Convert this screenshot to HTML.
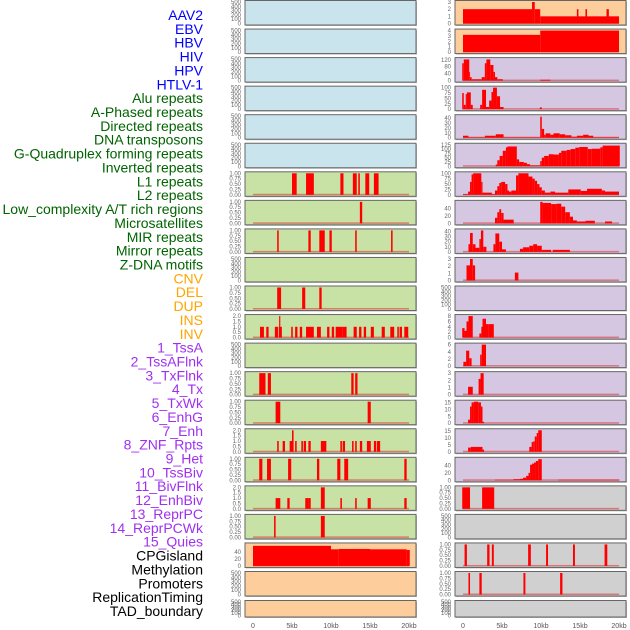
<!DOCTYPE html>
<html><head><meta charset="utf-8"><style>
body{margin:0;background:#fff;}
svg{display:block;font-family:"Liberation Sans",sans-serif;}
</style></head><body>
<svg id="c" width="630" height="630"></svg>
<script>
const trackLabels=["AAV2","EBV","HBV","HIV","HPV","HTLV-1","Alu repeats","A-Phased repeats","Directed repeats","DNA transposons","G-Quadruplex forming repeats","Inverted repeats","L1 repeats","L2 repeats","Low_complexity A/T rich regions","Microsatellites","MIR repeats","Mirror repeats","Z-DNA motifs","CNV","DEL","DUP","INS","INV","1_TssA","2_TssAFlnk","3_TxFlnk","4_Tx","5_TxWk","6_EnhG","7_Enh","8_ZNF_Rpts","9_Het","10_TssBiv","11_BivFlnk","12_EnhBiv","13_ReprPC","14_ReprPCWk","15_Quies","CPGisland","Methylation","Promoters","ReplicationTiming","TAD_boundary"];
const labelGroups=[6,13,5,15,5];
const xTickLabels=["0","5kb","10kb","15kb","20kb"];
const xTickValues=[0,5,10,15,20];
const tE=["0","100","200","300","400","500"];
const t01=["0.00","0.25","0.50","0.75","1.00"];
const t02=["0.0","0.5","1.0","1.5","2.0"];
// left column data [startKb,endKb,value]
const L06=[[5.0,5.6,1],[6.8,7.8,1],[11.2,11.6,1],[12.8,13.3,1],[13.5,13.7,1],[14.4,14.9,1],[15.5,16.1,1]];
const L07=[[13.7,14.0,1]];
const L08=[[3.1,3.3,1],[7.1,7.4,1],[8.5,9.2,1],[9.8,10.1,1],[13.1,13.3,1],[17.7,17.9,1]];
const L10=[[3.1,3.6,1],[6.3,6.7,1],[8.5,8.8,1]];
const L11=[[0.9,1.4,1],[1.7,2.0,1],[2.8,3.2,1],[3.3,3.7,1],[3.35,3.5,2],[4.9,5.1,1],[5.4,5.7,1],[6.0,6.3,1],[6.8,7.8,1],[8.2,8.7,1],[9.5,9.8,1],[10.1,10.4,1],[10.6,11.5,1],[11.5,12.0,1],[12.9,13.3,1],[13.6,13.9,1],[14.2,14.5,1],[15.1,15.5,1],[16.5,16.9,1],[17.6,18.1,1],[18.5,18.7,1],[18.8,19.1,1],[19.4,19.9,1]];
const L13=[[0.8,1.6,1],[1.9,2.3,1],[12.6,12.9,1],[13.1,13.4,1]];
const L14=[[2.9,3.5,1],[14.7,15.1,1]];
const L15=[[3.1,3.3,1],[3.8,4.1,1],[4.7,5.2,1],[5.0,5.2,2],[5.4,5.6,1],[6.2,6.4,1],[6.5,6.8,1],[7.1,7.4,1],[8.7,9.4,1],[11.2,11.4,1],[11.5,11.8,1],[12.7,12.9,1],[13.1,13.3,1],[13.7,14.0,1],[14.6,15.1,1],[15.5,15.8,1],[15.9,16.3,1]];
const L16=[[0.8,1.2,1],[1.8,2.3,1],[4.5,4.9,1],[8.2,8.5,1],[10.8,11.2,1],[11.7,12.2,1],[19.4,19.7,1]];
const L17=[[2.9,3.5,1],[4.4,4.7,1],[6.7,7.1,1],[7.1,7.4,1],[8.7,9.2,2],[11.2,11.4,1],[13.1,13.3,1],[14.7,15.1,1],[19.4,19.7,1]];
const L18=[[2.7,2.9,1],[8.7,9.2,1]];
const L19=[[0,10,58],[10,11,48],[11,15,49],[15,19.7,48],[19.7,20.1,46]];
// right column data
const R00=[[0,8.85,2],[8.85,9.2,3],[9.2,9.9,2],[9.9,20,1],[14.6,14.8,2],[15.7,15.9,2],[18.4,18.7,2]];
const R01=[[0,9.9,3.2],[9.9,20,4]];
const R02=[[-0.1,0.1,100],[0.1,0.8,122],[0.8,0.9,50],[0.9,1.1,20],[1.1,2.4,8],[2.4,2.8,20],[2.8,3.0,100],[3.0,3.5,122],[3.5,3.9,90],[3.9,4.1,50],[4.1,4.4,20],[4.4,5.1,8],[9.9,11.2,5]];
const R03=[[-0.1,0.1,75],[0.1,0.35,20],[0.35,0.5,70],[0.5,1.0,78],[1.0,1.25,20],[2.2,2.45,20],[2.45,2.95,90],[2.95,3.35,10],[3.35,3.65,40],[3.65,3.85,80],[3.85,4.35,100],[4.35,4.75,60],[4.75,5.2,10],[9.85,10.1,8]];
const R04=[[0,0.7,4],[0.7,2.8,1],[2.8,4.2,4],[4.2,5.2,7],[5.2,9.9,1],[9.9,10.1,43],[10.1,10.4,18],[10.4,10.6,6],[10.6,11.2,9],[11.2,11.6,6],[11.6,12.4,9],[12.4,13.1,7],[13.1,13.9,5],[13.9,14.6,2],[14.6,15.4,4],[15.4,16.1,6],[16.1,16.7,4],[16.7,20,1]];
const R05=[[4.2,4.4,10],[4.4,4.7,35],[4.7,5.1,60],[5.1,5.5,90],[5.5,5.7,110],[5.7,6.9,115],[6.9,7.2,40],[7.2,7.8,25],[7.8,8.2,20],[8.2,8.6,12],[8.6,9.9,5],[9.9,10.1,30],[10.1,10.4,50],[10.4,11.0,60],[11.0,11.6,70],[11.6,12.3,68],[12.3,12.6,78],[12.6,13.3,90],[13.3,13.8,95],[13.8,14.4,100],[14.4,14.9,108],[14.9,16.0,112],[16.0,16.5,100],[16.5,17.6,102],[17.6,17.9,110],[17.9,20.1,120]];
const R06=[[0,0.65,3],[0.65,0.9,15],[0.9,1.1,60],[1.1,1.3,95],[1.3,2.35,100],[2.35,2.5,60],[2.5,3.7,10],[3.7,4.1,3],[4.1,4.4,20],[4.4,4.65,40],[4.65,4.9,55],[4.9,5.4,60],[5.4,5.7,50],[5.7,5.9,20],[5.9,6.2,15],[6.2,6.8,20],[6.8,7.1,90],[7.1,8.4,100],[8.4,8.9,85],[8.9,9.2,75],[9.2,9.5,65],[9.5,9.8,50],[9.8,10.1,35],[10.1,10.5,20],[10.5,11.2,10],[11.2,11.8,15],[11.8,13.5,10],[13.5,15.1,25],[15.1,15.9,18],[15.9,17.8,28],[17.8,18.2,20],[18.2,20,15]];
const R07=[[4.1,4.4,15],[4.4,4.65,30],[4.65,4.9,38],[4.9,5.2,28],[5.2,6.5,10],[9.9,10.2,58],[10.2,11.3,55],[11.3,12.0,52],[12.0,12.6,53],[12.6,13.1,45],[13.1,13.7,30],[13.7,14.1,18],[14.1,14.6,8],[14.6,15.7,5],[15.7,16.9,7],[18.2,19.1,5]];
const R08=[[0.7,0.9,15],[0.9,1.25,37],[1.25,1.6,15],[1.6,2.1,8],[2.1,2.3,25],[2.3,2.6,42],[2.6,3.0,10],[3.9,4.15,15],[4.15,4.65,36],[4.65,5.0,20],[5.0,5.5,5],[7.3,7.7,6],[7.7,8.5,9],[8.5,9.0,12],[9.0,9.5,15],[9.5,10.1,12],[10.1,11.3,4],[11.5,13.7,4]];
const R09=[[0.45,0.9,2.1],[0.9,1.25,3],[1.25,1.55,2.1],[6.65,7.1,1.1]];
const R11=[[-0.1,0.2,3.5],[0.2,0.45,2.5],[0.45,0.7,6],[0.7,1.25,8],[2.1,2.35,1.5],[2.35,2.5,4],[2.5,2.95,7],[2.95,3.3,5],[3.3,3.95,5]];
const R12=[[0.05,0.4,1.2],[0.4,0.8,4.3],[0.8,1.1,2.2],[2.2,2.4,3.2],[2.4,2.95,6]];
const R13=[[0.65,1.25,1.1],[2.0,2.25,2.2],[2.25,2.65,3]];
const R14=[[0.65,0.9,2.5],[0.9,1.1,12],[1.1,1.4,15],[1.4,1.95,15.5],[1.95,2.3,15],[2.3,2.5,12],[2.5,2.7,1]];
const R15=[[0.65,1.0,3],[1.0,2.5,3.5],[2.5,2.7,1.5],[8.5,8.8,3.5],[8.8,9.0,7],[9.0,9.2,7.5],[9.2,9.45,11],[9.45,9.65,13.5],[9.65,10.1,15.5]];
const R16=[[4.1,6.45,1.5],[6.45,7.3,3],[7.3,7.7,4],[7.7,8.1,7],[8.1,8.4,12],[8.4,8.6,20],[8.6,8.85,42],[8.85,9.1,45],[9.1,9.35,48],[9.35,9.65,52],[9.65,10.1,57],[12.2,20.1,1.5]];
const R17=[[-0.1,0.9,1],[2.45,4.0,1]];
const R19=[[0.2,0.5,1],[3.1,3.4,1],[3.7,3.95,1],[8.35,8.7,1],[10.65,10.9,1],[14.1,14.35,1],[18.15,18.5,1]];
const R20=[[0.7,0.9,1],[2.1,2.4,1],[7.75,8.0,1],[12.45,12.75,1]];

const BL="#c9e4ec",GR="#c8e1a5",OR="#fecd9c",PU="#d5c6e2",GY="#d0d0d0";
// [col,row,bg,ticks,ymax,data]
const panels=[
[0,0,BL,tE,500,null],[0,1,BL,tE,500,null],[0,2,BL,tE,500,null],[0,3,BL,tE,500,null],[0,4,BL,tE,500,null],[0,5,BL,tE,500,null],
[0,6,GR,t01,1,L06],[0,7,GR,t01,1,L07],[0,8,GR,t01,1,L08],[0,9,GR,tE,500,null],[0,10,GR,t01,1,L10],[0,11,GR,t02,2,L11],[0,12,GR,tE,500,null],[0,13,GR,t01,1,L13],[0,14,GR,t01,1,L14],[0,15,GR,t02,2,L15],[0,16,GR,t01,1,L16],[0,17,GR,t02,2,L17],[0,18,GR,t01,1,L18],
[0,19,OR,["0","20","40"],62,L19],[0,20,OR,tE,500,null],[0,21,OR,tE,500,null],
[1,0,OR,["0","1","2","3"],3,R00],[1,1,OR,["0","1","2","3","4"],4,R01],
[1,2,PU,["0","40","80","120"],124,R02],[1,3,PU,["0","25","50","75","100"],100,R03],[1,4,PU,["0","10","20","30","40"],44,R04],[1,5,PU,["0","25","50","75","100","125"],125,R05],[1,6,PU,["0","25","50","75","100"],100,R06],[1,7,PU,["0","20","40"],58,R07],[1,8,PU,["0","10","20","30","40"],42,R08],[1,9,PU,["0","1","2","3"],3,R09],[1,10,PU,tE,500,null],[1,11,PU,["0","2","4","6","8"],8,R11],[1,12,PU,["0","2","4","6"],6,R12],[1,13,PU,["0","1","2","3"],3,R13],[1,14,PU,["0","5","10","15"],15.5,R14],[1,15,PU,["0","5","10","15"],15.5,R15],[1,16,PU,["0","20","40"],58,R16],
[1,17,GY,t01,1,R17],[1,18,GY,tE,500,null],[1,19,GY,t01,1,R19],[1,20,GY,t01,1,R20],[1,21,GY,tE,500,null]];

const NS="http://www.w3.org/2000/svg";
const svg=document.getElementById("c");
function mk(tag,attrs,parent){const e=document.createElementNS(NS,tag);for(const k in attrs)e.setAttribute(k,attrs[k]);(parent||svg).appendChild(e);return e;}
const colLeft=[245,455],colW=171,zeroX=[253,463],kbW=7.8;
function xS(col,v){return zeroX[col]+v*kbW;}
function rowTop(r){return r===21?600.5:0.5+28.55*r;}
function rowH(r){return r===21?16.5:24.5;}

// labels
const groupColors=["#0000ff","#006400","#ffa500","#a030f0","#000000"];
let gi=0,gc=0;
trackLabels.forEach((t,i)=>{
  const t2=mk("text",{x:203,y:15+i*13.86+5,"text-anchor":"end","font-size":"14",fill:groupColors[gi]});
  t2.textContent=t;
  
  
  gc++; if(gc>=labelGroups[gi]){gi++;gc=0;}
});

panels.forEach(p=>{
  const [col,row,bg,ticks,ymax,data]=p;
  const top=rowTop(row),h=rowH(row),left=colLeft[col];
  const g=mk("g",{});
  
  
  mk("rect",{x:left+1,y:top+1,width:colW,height:h,fill:"#bbb"},g);
  mk("rect",{x:left,y:top,width:colW,height:h,fill:bg,stroke:"#666","stroke-width":"1"},g);
  const y0=top+h-1.5,y1=top+1.5;
  const yS=v=>y0-(v/ymax)*(y0-y1);
  ticks.forEach(tl=>{
    const v=parseFloat(tl);
    const tt=mk("text",{x:left-4,y:yS(v)+2,"text-anchor":"end","font-size":"6",fill:"#666"},g);
    tt.textContent=tl;
    
    
  });
  if(data){
    mk("rect",{x:xS(col,0),y:y0-1,width:xS(col,20)-xS(col,0),height:1.5,fill:"rgba(220,50,50,0.55)"},g);
    data.forEach(d=>{
      const r=mk("rect",{x:xS(col,d[0]),y:yS(d[2]),width:Math.max(0.8,xS(col,d[1])-xS(col,d[0])),height:y0-yS(d[2]),fill:"#ff0000"},g);
      
      
    });
  }
});

[0,1].forEach(col=>{
  xTickValues.forEach((v,i)=>{
    const t=mk("text",{x:xS(col,v),y:628,"text-anchor":"middle","font-size":"7",fill:"#555"});
    t.textContent=xTickLabels[i];
    
    
  });
});
</script>
</body></html>
